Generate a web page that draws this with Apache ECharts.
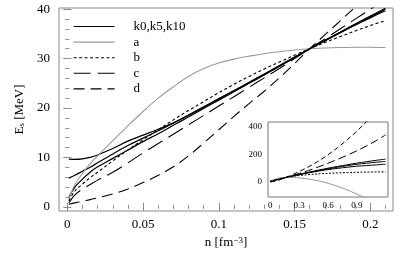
<!DOCTYPE html>
<html>
<head>
<meta charset="utf-8">
<script src="https://cdn.jsdelivr.net/npm/echarts@6/dist/echarts.min.js"></script>
<style>html,body{margin:0;padding:0;background:#fff}#c{width:411px;height:254px}</style>
</head>
<body>
<div id="c"></div>
<script>
// ---- main plot data: n [fm^-3] and E_s [MeV] ----
const n = [0.001,0.005,0.01,0.015,0.02,0.03,0.04,0.05,0.06,0.07,0.08,0.09,0.1,0.11,0.12,0.13,0.14,0.15,0.16,0.17,0.18,0.19,0.2,0.21];
const k0  = [9.65,9.6,9.7,10.0,10.5,11.8,13.3,14.5,15.7,17.0,18.6,20.25,21.9,23.55,25.2,26.9,28.6,30.3,32.0,33.6,35.2,36.75,38.25,39.7];
const k5  = [5.8,6.4,7.2,8.0,8.9,10.7,12.4,13.9,15.4,16.9,18.5,20.15,21.8,23.45,25.1,26.8,28.5,30.25,32.0,33.65,35.3,36.9,38.45,40.0];
const k10 = [1.9,4.0,5.6,7.0,8.1,9.8,11.5,13.2,14.8,16.5,18.2,19.9,21.6,23.3,25.0,26.7,28.4,30.2,32.0,33.7,35.35,37.0,38.6,40.2];
const a   = [1.6,4.5,6.8,8.7,10.3,13.4,16.4,19.3,22.0,24.3,26.4,28.0,29.1,29.9,30.5,31.0,31.4,31.75,32.0,32.15,32.25,32.3,32.3,32.25];
const b   = [1.2,3.2,4.6,5.9,7.0,9.3,11.5,13.6,15.6,17.6,19.5,21.3,23.1,24.8,26.4,27.9,29.3,30.7,32.0,33.25,34.45,35.6,36.7,37.7];
const c   = [0.8,2.4,3.6,4.5,5.4,7.0,8.9,10.9,12.8,14.7,16.6,18.5,20.4,22.3,24.2,26.1,28.0,30.0,32.0,34.0,36.0,38.0,40.0,42.0];
const d   = [0.5,0.8,1.1,1.45,1.8,2.6,3.6,4.9,6.4,8.1,10.3,12.9,15.6,18.3,20.9,23.4,26.1,29.0,32.0,34.8,37.6,40.4,43.2,46.0];

// ---- inset data ----
const nIn   = [0,0.05,0.1,0.16,0.2,0.3,0.4,0.5,0.6,0.7,0.8,0.9,1.0,1.1,1.2];
const k0In  = [9.6,14.5,21.9,32,38.25,55,70,85,99,112,124,136,146,156,165];
const k5In  = [5.8,13.9,21.8,32,38.45,54,68,82,94,106,117,127,135,142,148];
const k10In = [1.9,13.2,21.6,32,38.6,53,66,78,89,98,106,113,118,123,128];
const aIn   = [1.6,19.3,29.1,32.0,32.3,29,21,8,-10,-32,-58,-88,-120,-155,-195];
const bIn   = [1.2,13.6,23.1,32,36.7,46,53,58,62,65,67.5,69.5,71,72,73];
const cIn   = [0.8,10.9,20.4,32,40,61,83,108,135,163,193,225,260,298,340];
const dIn   = [0.5,4.9,15.6,32,43.2,75,110,150,196,248,305,367,435,505,580];

// ---- ticks ----
const xMajor = [0,0.05,0.1,0.15,0.2];
const xMinor = [0.01,0.02,0.03,0.04,0.06,0.07,0.08,0.09,0.11,0.12,0.13,0.14,0.16,0.17,0.18,0.19,0.21];
const yMajor = [0,10,20,30,40];
const yMinor = [2,4,6,8,12,14,16,18,22,24,26,28,32,34,36,38];
const xInsetTicks = [0,0.3,0.6,0.9];
const yInsetTicks = [0,200,400];
const legendNames = ['k0,k5,k10','a','b','c','d'];

const FONT = 'Liberation Serif';
const AX = '#888';
const zip = (xs, ys) => xs.map((x, i) => [x, ys[i]]);

const styles = {
  k: {color:'#000', width:1.2, type:'solid'},
  a: {color:'#999', width:1.1, type:'solid'},
  b: {color:'#000', width:1.1, type:[3,2.5]},
  c: {color:'#000', width:1.1, type:[17,7]},
  d: {color:'#000', width:1.1, type:[11,6]}
};

function line(name, data, st, xi, yi) {
  return {
    type:'line', name, data, xAxisIndex:xi, yAxisIndex:yi,
    symbol:'none', smooth:0.35, clip:true, silent:true,
    lineStyle:{color:st.color, width:st.width, type:st.type},
    itemStyle:{color:st.color},
    animation:false
  };
}

function tickAxis(base, vals, len) {
  return Object.assign({
    type:'value', axisLine:{show:false}, splitLine:{show:false},
    axisTick:{show:true, inside:true, length:len, customValues:vals, lineStyle:{color:AX, width:1}},
    axisLabel:{show:false}
  }, base);
}

const xRange = {min:-0.0055, max:0.215};
const yRange = {min:-0.85, max:40.25};

const xAxes = [
  Object.assign(tickAxis({gridIndex:0, position:'bottom'}, xMajor, 4), xRange, {
    axisLabel:{show:true, customValues:xMajor, formatter:v=>String(v), margin:7, fontFamily:FONT, fontSize:13, color:'#000'},
    name:'n [fm{sup|−3}]', nameLocation:'middle', nameGap:25,
    nameTextStyle:{fontFamily:FONT, fontSize:13, color:'#000', rich:{sup:{fontFamily:FONT, fontSize:9, color:'#000', verticalAlign:'top', padding:[0,0,4,0]}}}
  }),
  Object.assign(tickAxis({gridIndex:0, position:'bottom'}, xMinor, 2), xRange),
  Object.assign(tickAxis({gridIndex:0, position:'top'}, xMajor, 4), xRange),
  Object.assign(tickAxis({gridIndex:0, position:'top'}, xMinor, 2), xRange),
  {type:'value', gridIndex:1, position:'bottom', min:-0.024, max:1.224,
   axisLine:{show:false}, splitLine:{show:false}, axisTick:{show:false},
   axisLabel:{customValues:xInsetTicks, formatter:v=>String(v), margin:4, fontFamily:FONT, fontSize:9, color:'#000'}}
];
const yAxes = [
  Object.assign(tickAxis({gridIndex:0, position:'left'}, yMajor, 4), yRange, {
    axisLabel:{show:true, customValues:yMajor, margin:9, fontFamily:FONT, fontSize:13, color:'#000'},
    name:'E{sub|s} [MeV]', nameLocation:'middle', nameGap:24, nameRotate:90,
    nameTextStyle:{fontFamily:FONT, fontSize:13, color:'#000', rich:{sub:{fontFamily:FONT, fontSize:9, color:'#000', verticalAlign:'bottom', padding:[4,0,0,0]}}}
  }),
  Object.assign(tickAxis({gridIndex:0, position:'left'}, yMinor, 2), yRange),
  Object.assign(tickAxis({gridIndex:0, position:'right'}, yMajor, 4), yRange),
  Object.assign(tickAxis({gridIndex:0, position:'right'}, yMinor, 2), yRange),
  {type:'value', gridIndex:1, position:'left', min:-109, max:433,
   axisLine:{show:false}, splitLine:{show:false}, axisTick:{show:false},
   axisLabel:{customValues:yInsetTicks, margin:6, fontFamily:FONT, fontSize:9, color:'#000'}}
];

const series = [
  line('k0,k5,k10', zip(n,k0), styles.k, 0, 0),
  line('k0,k5,k10', zip(n,k5), styles.k, 0, 0),
  line('k0,k5,k10', zip(n,k10), styles.k, 0, 0),
  line('a', zip(n,a), styles.a, 0, 0),
  line('b', zip(n,b), styles.b, 0, 0),
  line('c', zip(n,c), styles.c, 0, 0),
  line('d', zip(n,d), styles.d, 0, 0),
  line('inset k0', zip(nIn,k0In), {color:'#000', width:1, type:'solid'}, 4, 4),
  line('inset k5', zip(nIn,k5In), {color:'#000', width:1, type:'solid'}, 4, 4),
  line('inset k10', zip(nIn,k10In), {color:'#000', width:1, type:'solid'}, 4, 4),
  line('inset a', zip(nIn,aIn), {color:'#999', width:1, type:'solid'}, 4, 4),
  line('inset b', zip(nIn,bIn), {color:'#000', width:1, type:[2,1.5]}, 4, 4),
  line('inset c', zip(nIn,cIn), {color:'#000', width:1, type:[8,4]}, 4, 4),
  line('inset d', zip(nIn,dIn), {color:'#000', width:1, type:[5,3]}, 4, 4)
];

const chart = echarts.init(document.getElementById('c'), null, {renderer:'canvas'});
chart.setOption({
  animation:false,
  backgroundColor:'#fff',
  textStyle:{fontFamily:FONT},
  grid:[
    {left:59, right:18, top:8, bottom:41, show:true, borderColor:AX, borderWidth:1, backgroundColor:'transparent'},
    {left:268, right:23, top:122, bottom:57, show:true, borderColor:'#777', borderWidth:1, backgroundColor:'#fff', z:3}
  ],
  legend:{
    data:legendNames, orient:'vertical', left:68, top:15,
    itemWidth:41, itemHeight:14, itemGap:2.6, selectedMode:false,
    itemStyle:{color:'rgba(0,0,0,0)', borderColor:'rgba(0,0,0,0)', borderWidth:0},
    lineStyle:{width:1.1},
    textStyle:{fontFamily:FONT, fontSize:13, color:'#000', padding:[0,0,0,14]}
  },
  xAxis:xAxes,
  yAxis:yAxes,
  series:series
});
</script>
</body>
</html>
